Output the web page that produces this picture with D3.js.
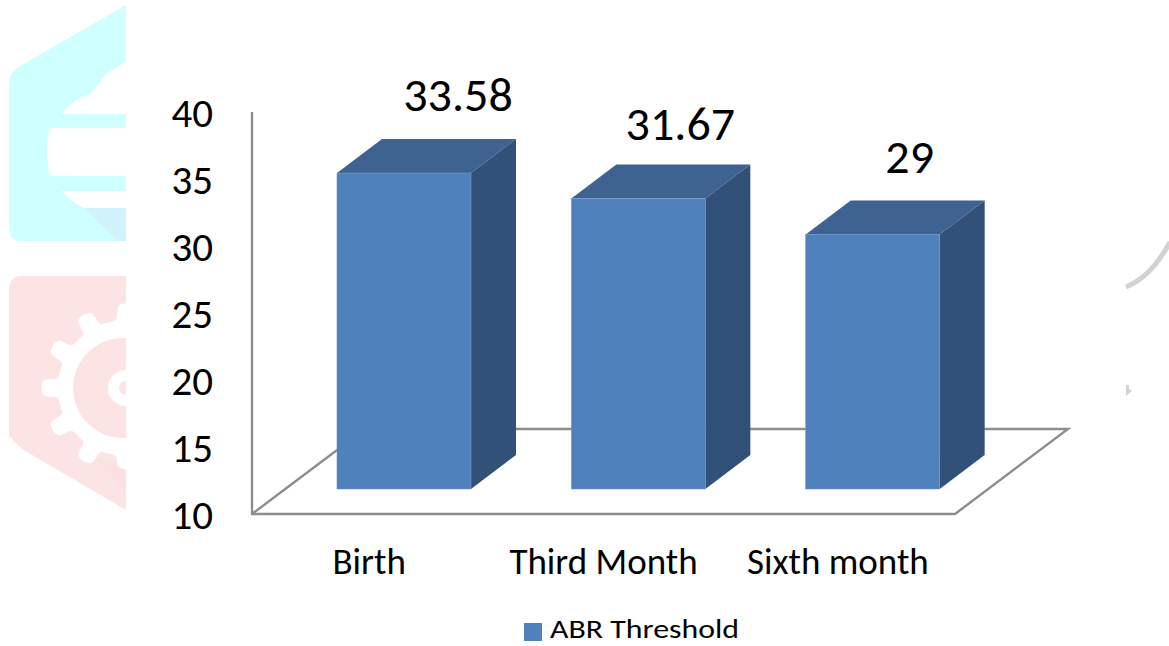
<!DOCTYPE html>
<html><head><meta charset="utf-8">
<script src="https://cdn.jsdelivr.net/npm/d3@7"></script>
<style>html,body{margin:0;padding:0;background:#fff}svg{display:block}text{font-family:Carlito,Lato,"Open Sans",sans-serif;fill:#000}</style>
</head><body><svg id="c" width="1169" height="646"></svg>
<script>
const categories = ["Birth","Third Month","Sixth month"];
const values = [33.58,31.67,29];
const valueLabels = ["33.58","31.67","29"];
const yTicks = [10,15,20,25,30,35,40];
const seriesName = "ABR Threshold";

const svg = d3.select("#c");
const defs = svg.append("defs");
defs.append("clipPath").attr("id","wm").append("rect").attr("x",0).attr("y",0).attr("width",126).attr("height",646);

// faded watermark
const wm = svg.append("g").attr("clip-path","url(#wm)");
const line = d3.line();
wm.append("path").attr("fill","#d0ffff").attr("d","M9 84Q9 72 20 66L126 5V241H22Q9 241 9 228Z");
wm.append("path").attr("fill","#fff").attr("d","M126 61L105 75L92 93L76 100L60 114H126Z");
wm.append("path").attr("fill","#fff").attr("d","M126 128H50Q44 150 50 176H126Z");
wm.append("path").attr("fill","#fff").attr("d","M126 191H62Q68 200 84 208H126Z");
wm.append("path").attr("fill","#d0f3fb").attr("d","M84 208H126V241H118Z");
wm.append("path").attr("fill","#fde4e4").attr("d","M9 290Q9 276 22 276H126V510L22 449L9 436Z");
const cx=126, cy=388;
const gear=[];
for(let i=0;i<12;i++){
  const s=2*Math.PI/12;
  const a0=i*s-s/2;
  [[68,.05],[69,.22],[83,.34],[83,.66],[69,.78],[68,.95]].forEach(([r,t])=>gear.push([cx+r*Math.cos(a0+t*s),cy+r*Math.sin(a0+t*s)]));
}
wm.append("path").attr("fill","#fff").attr("d",d3.line().curve(d3.curveCatmullRomClosed)(gear));
wm.append("circle").attr("cx",cx-3).attr("cy",cy).attr("r",50).attr("fill","#fde4e4");
wm.append("circle").attr("cx",cx).attr("cy",cy).attr("r",18).attr("fill","#fff");
wm.append("circle").attr("cx",cx).attr("cy",cy).attr("r",7).attr("fill","#fde4e4");
wm.append("path").attr("fill","#fbdfe1").attr("d","M96 458L126 470V492Z");
svg.append("path").attr("fill","none").attr("stroke","#d2d2d2").attr("stroke-width",5).attr("d","M1126 287Q1152 276 1170 242");
svg.append("path").attr("fill","#d2d2d2").attr("d","M1126 385L1129 385L1129 389L1132 391L1126 396Z");

// scales
const floorLeft=252, floorRight=955, floorBase=514, floorDx=113, floorDy=85;
const yScale = d3.scaleLinear().domain([10,40]).range([floorBase,112]);
const xScale = d3.scaleBand().domain(categories).range([floorLeft,floorRight]);
const barWidth=134, barInset=85, barLift=25, depthX=45, depthY=34;
const gray="#8e8e8e";

// chart walls and floor
const grid = svg.append("g").attr("fill","none").attr("stroke",gray).attr("stroke-width",2.4);
grid.append("path").attr("d",line([[floorLeft,yScale(40)],[floorLeft,floorBase],[floorRight,floorBase],[floorRight+floorDx,floorBase-floorDy],[floorLeft+floorDx,floorBase-floorDy],[floorLeft,floorBase]]));

// bars
const bars = svg.append("g").selectAll("g").data(categories).join("g");
const bx = c=>xScale(c)+barInset;
const barTop = i=>yScale(values[i])-barLift;
const barBottom = floorBase-barLift;
bars.append("path").attr("fill","#3e6390").attr("d",(c,i)=>line([[bx(c),barTop(i)],[bx(c)+depthX,barTop(i)-depthY],[bx(c)+barWidth+depthX,barTop(i)-depthY],[bx(c)+barWidth,barTop(i)]])+"Z");
bars.append("path").attr("fill","#325178").attr("d",(c,i)=>line([[bx(c)+barWidth,barTop(i)],[bx(c)+barWidth+depthX,barTop(i)-depthY],[bx(c)+barWidth+depthX,barBottom-depthY],[bx(c)+barWidth,barBottom]])+"Z");
bars.append("rect").attr("fill","#4f81bd").attr("stroke","#6f98c9").attr("stroke-width",.6)
  .attr("x",c=>bx(c)).attr("y",(c,i)=>barTop(i)).attr("width",barWidth).attr("height",(c,i)=>barBottom-barTop(i));

// value labels
const labelShiftX=[54,42,37], labelShiftY=[79,75,78];
svg.append("g").selectAll("text").data(valueLabels).join("text")
  .attr("x",(d,i)=>bx(categories[i])+barWidth/2+labelShiftX[i])
  .attr("y",(d,i)=>barTop(i)-labelShiftY[i])
  .attr("text-anchor","middle").attr("dominant-baseline","central")
  .style("font-size","48px").text(d=>d);

// y axis labels
svg.append("g").selectAll("text").data(yTicks).join("text")
  .attr("x",213).attr("y",d=>yScale(d)+1).attr("text-anchor","end").attr("dominant-baseline","central")
  .style("font-size","41px").text(d=>d);

// x axis labels
svg.append("g").selectAll("text").data(categories).join("text")
  .attr("x",d=>xScale(d)+xScale.bandwidth()/2).attr("y",561).attr("text-anchor","middle").attr("dominant-baseline","central")
  .style("font-size","37px").text(d=>d);

// legend
svg.append("rect").attr("x",524).attr("y",623).attr("width",18).attr("height",18).attr("fill","#4f81bd");
svg.append("text").attr("transform","translate(550,629) scale(1.18,1)").attr("dominant-baseline","central").style("font-size","27px").text(seriesName);
</script></body></html>
